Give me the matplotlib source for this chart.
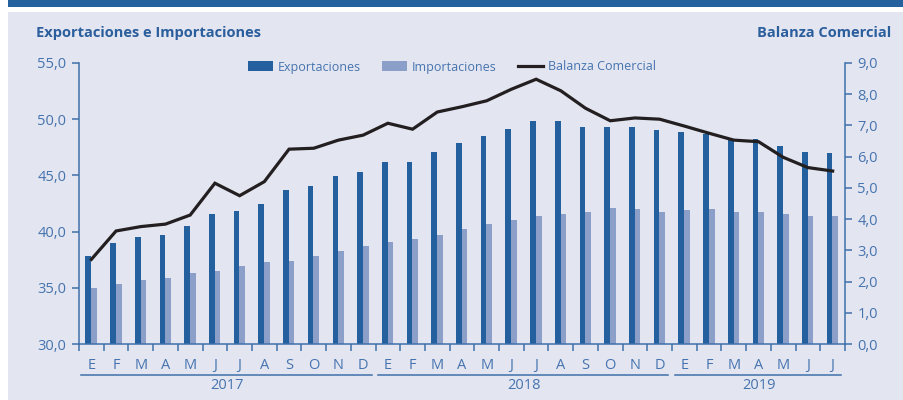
import matplotlib
matplotlib.use("Agg")
import matplotlib.pyplot as plt
from matplotlib.patches import Rectangle
from matplotlib.lines import Line2D
import numpy as np

months = ["E", "F", "M", "A", "M", "J", "J", "A", "S", "O", "N", "D",
          "E", "F", "M", "A", "M", "J", "J", "A", "S", "O", "N", "D",
          "E", "F", "M", "A", "M", "J", "J"]
years = ["2017", "2018", "2019"]
year_counts = [12, 12, 7]

exportaciones = [37.8, 39.0, 39.5, 39.7, 40.5, 41.6, 41.8, 42.5, 43.7, 44.1, 44.95, 45.3,
                 46.2, 46.2, 47.1, 47.9, 48.5, 49.1, 49.8, 49.8, 49.3, 49.3, 49.3, 49.0,
                 48.9, 48.7, 48.2, 48.2, 47.6, 47.1, 47.0]
importaciones = [35.0, 35.3, 35.7, 35.9, 36.3, 36.5, 36.9, 37.3, 37.4, 37.8, 38.3, 38.7,
                 39.1, 39.3, 39.7, 40.2, 40.7, 41.0, 41.4, 41.6, 41.7, 42.1, 42.0, 41.7,
                 41.9, 42.0, 41.7, 41.7, 41.6, 41.4, 41.4]
balanza = [2.71, 3.62, 3.76, 3.84, 4.13, 5.15, 4.75, 5.2, 6.24, 6.27, 6.53, 6.69,
           7.07, 6.88, 7.43, 7.6, 7.79, 8.16, 8.48, 8.11, 7.55, 7.15, 7.24, 7.2,
           6.98, 6.75, 6.53, 6.48, 5.98, 5.65, 5.54]

left_ticks = [30, 35, 40, 45, 50, 55]
right_ticks = [0, 1, 2, 3, 4, 5, 6, 7, 8, 9]

DARK = "#25609E"
LIGHT = "#8C9FC9"
BG = "#E3E5F1"
AX = "#3F70AA"
TXT = "#4674AE"
TITLE = "#2B5E9C"
FONT = "Open Sans"

W, H = 904, 400
fig = plt.figure(figsize=(W / 100, H / 100), dpi=100)
fig.patch.set_facecolor("white")
fig.patches.append(Rectangle((8 / W, 0), 1 - 8 / W, (H - 12) / H, transform=fig.transFigure,
                             facecolor=BG, edgecolor="none", zorder=-10))
fig.patches.append(Rectangle((8 / W, (H - 7) / H), 1 - 8 / W, 7 / H, transform=fig.transFigure,
                             facecolor="#25619F", edgecolor="none", zorder=-10))

ax = fig.add_axes([79 / W, 56 / H, (845 - 79) / W, 281 / H])
ax.set_facecolor("none")
n = len(months)
x = np.arange(n)
ax.bar(x - 0.125, exportaciones, width=0.23, color=DARK, zorder=2, label="Exportaciones")
ax.bar(x + 0.105, importaciones, width=0.23, color=LIGHT, zorder=2, label="Importaciones")
ax.set_xlim(-0.5, n - 0.5)
ax.set_ylim(30, 55)
ax.set_yticks(left_ticks)
ax.set_yticklabels([f"{v:.1f}".replace(".", ",") for v in left_ticks])
ax.set_xticks(np.arange(n + 1) - 0.5)
ax.set_xticklabels([])
ax.spines["top"].set_visible(False)
ax.spines["right"].set_visible(False)
for s in ["left", "bottom"]:
    ax.spines[s].set_color(AX)
    ax.spines[s].set_linewidth(1.1)
ax.tick_params(axis="both", colors=AX, length=5, width=1.1, direction="out")
ax.tick_params(axis="y", labelcolor=TXT, labelsize=10.5, pad=4)
for lab in ax.get_yticklabels():
    lab.set_fontfamily(FONT)

ax2 = ax.twinx()
ax2.set_ylim(0, 9)
ax2.plot(x, balanza, color="#231F20", lw=2.3, zorder=5, label="Balanza Comercial",
         solid_joinstyle="miter")
ax2.set_yticks(right_ticks)
ax2.set_yticklabels([f"{v:.1f}".replace(".", ",") for v in right_ticks])
for s in ["top", "left", "bottom"]:
    ax2.spines[s].set_visible(False)
ax2.spines["right"].set_color(AX)
ax2.spines["right"].set_linewidth(1.1)
ax2.tick_params(axis="y", colors=AX, labelcolor=TXT, length=5, width=1.1, labelsize=10.5, pad=4)
for lab in ax2.get_yticklabels():
    lab.set_fontfamily(FONT)

# month labels
for i, m in enumerate(months):
    ax.text(i, -0.078, m, transform=ax.get_xaxis_transform(), ha="center", va="center",
            color=TXT, fontsize=10.5, family=FONT)

# year groups
start = 0
for yr, c in zip(years, year_counts):
    x0, x1 = start - 0.4, start + c - 0.65
    ax.add_line(Line2D([x0, x1], [-0.11, -0.11], transform=ax.get_xaxis_transform(),
                       color=AX, lw=1.1, clip_on=False))
    ax.text((start + start + c - 1) / 2, -0.148, yr, transform=ax.get_xaxis_transform(),
            ha="center", va="center", color=TXT, fontsize=10.5, family=FONT)
    start += c

fig.text(36 / W, 1 - 33 / H, "Exportaciones e Importaciones", color=TITLE, fontsize=10.5,
         fontweight="bold", family=FONT, ha="left", va="center")
fig.text(891 / W, 1 - 33 / H, "Balanza Comercial", color=TITLE, fontsize=10.5,
         fontweight="bold", family=FONT, ha="right", va="center")

h1, l1 = ax.get_legend_handles_labels()
h2, l2 = ax2.get_legend_handles_labels()
leg = fig.legend(h1 + h2, l1 + l2, loc="center", bbox_to_anchor=(452 / W, 1 - 67 / H), ncol=3,
                 frameon=False, handlelength=2.0, handleheight=0.9,
                 columnspacing=1.7, handletextpad=0.4, prop={"family": FONT, "size": 9})
for t in leg.get_texts():
    t.set_color(TXT)

fig.savefig("out.png", dpi=100, facecolor=fig.get_facecolor())
